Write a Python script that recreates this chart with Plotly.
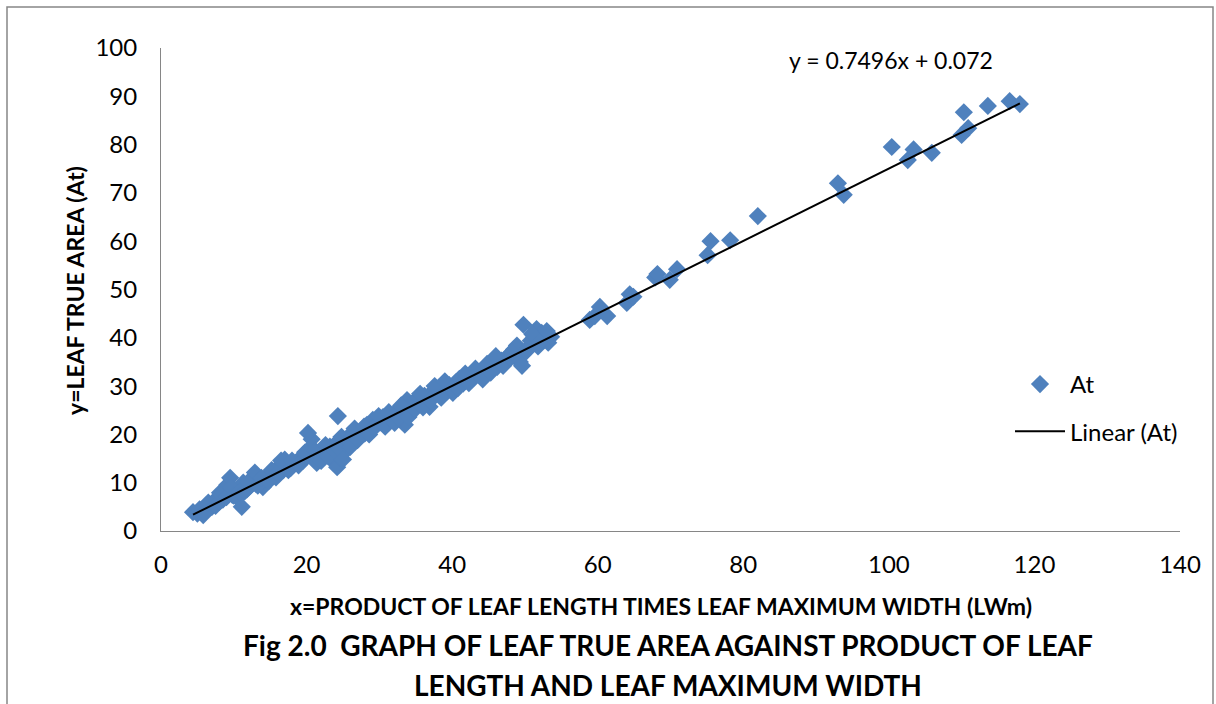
import plotly.graph_objects as go

# ---- data ----
lwm = [4.4, 5.0, 5.8, 6.2, 6.7, 7.0, 7.3, 7.8, 8.1, 8.5, 8.8, 9.1, 9.5, 9.3, 9.8, 10.2, 10.5, 11.1, 11.3, 11.8,
       12.3, 12.6, 13.0, 13.5, 14.0, 14.3, 14.6, 15.0, 15.5, 15.8, 16.3, 16.8, 17.0, 17.3, 17.8, 18.2, 18.6, 19.1,
       19.5, 20.0, 20.5, 20.7, 21.0, 21.4, 21.8, 22.3, 22.8, 23.2, 23.6, 24.0, 24.2, 24.2, 24.3, 24.6, 24.8, 25.2,
       25.5, 25.9, 26.3, 26.8, 27.3, 27.6, 28.0, 28.3, 28.8, 29.1, 29.5, 30.1, 30.5, 31.0, 31.5, 31.9, 32.4, 32.8,
       33.3, 33.5, 33.8, 34.2, 34.6, 35.0, 35.4, 35.8, 36.2, 36.6, 36.9, 37.4, 37.8, 38.3, 38.7, 39.2, 39.6, 40.1,
       40.5, 41.0, 41.5, 42.0, 42.5, 43.0, 43.5, 44.0, 44.5, 45.0, 45.6, 46.2, 46.8, 47.5, 48.5, 48.9, 49.3, 49.6,
       49.8, 50.5, 50.8, 51.2, 51.6, 51.8, 52.3, 52.7, 53.2, 53.6,
       5.3, 6.0, 6.5, 7.5, 8.0, 8.3, 9.0, 9.6, 10.0, 10.8, 11.5, 12.0, 12.9, 13.3, 13.8, 14.8, 15.2, 16.0, 16.5,
       17.5, 18.0, 18.9, 19.8, 20.2, 21.2, 22.0, 22.6, 23.0, 23.9, 24.5, 25.0, 25.7, 26.0, 26.6, 27.0, 27.9, 28.6,
       29.3, 29.9, 30.8, 31.3, 32.1, 32.6, 33.0, 34.0, 34.9, 35.6, 36.0, 37.0, 37.6, 38.5, 39.0, 39.9, 40.8, 41.8,
       42.3, 43.2, 44.2, 44.8, 45.3, 46.0, 47.0, 48.0, 48.2, 50.2, 51.0, 52.0, 53.0,
       58.9, 59.6, 60.3, 61.3, 64.0, 64.4, 64.9, 67.9, 68.2, 69.9, 70.9, 75.1, 75.5, 78.2, 82.0, 93.0, 93.8,
       100.4, 102.6, 103.4, 105.9, 110.0, 110.9, 110.3, 113.6, 116.6, 118.0]
at = [3.9, 3.6, 3.3, 4.8, 5.4, 5.0, 6.2, 6.8, 7.9, 6.5, 7.2, 9.5, 11.0, 8.0, 7.5, 8.4, 6.9, 5.0, 10.0, 8.6,
      9.4, 10.6, 9.8, 10.2, 9.1, 10.8, 11.2, 11.5, 12.0, 11.1, 13.5, 12.6, 14.8, 14.1, 13.0, 13.8, 14.2, 15.0,
      14.5, 15.6, 17.2, 19.0, 15.2, 14.1, 16.3, 15.8, 16.1, 17.5, 15.0, 14.0, 13.2, 18.4, 23.8, 15.2, 19.5, 17.8,
      16.8, 19.8, 18.6, 20.5, 19.5, 21.0, 20.2, 22.0, 21.3, 23.0, 22.0, 22.5, 23.6, 22.8, 24.0, 23.2, 24.6, 25.5,
      24.3, 22.0, 27.1, 25.4, 26.5, 27.0, 27.8, 26.6, 28.0, 27.2, 25.7, 29.0, 28.4, 29.6, 28.8, 29.8, 30.2, 28.6,
      30.8, 31.5, 30.5, 31.6, 32.4, 31.8, 33.0, 32.2, 33.5, 33.6, 35.2, 34.0, 35.3, 36.0, 37.6, 38.4, 35.0, 34.2,
      42.7, 38.0, 39.4, 40.5, 41.8, 38.2, 41.0, 39.6, 39.0, 40.2,
      4.5, 3.9, 5.9, 5.2, 6.0, 7.5, 7.0, 9.0, 7.3, 8.0, 8.2, 10.2, 12.1, 9.4, 11.0, 10.3, 12.6, 12.0, 14.6,
      12.6, 14.6, 13.6, 16.3, 20.3, 16.6, 14.5, 17.8, 15.4, 16.6, 17.0, 14.8, 18.8, 17.4, 21.2, 18.8, 21.6, 20.0,
      21.4, 23.8, 21.6, 24.6, 22.4, 23.4, 26.0, 23.6, 25.2, 28.4, 25.6, 27.0, 30.0, 27.6, 31.0, 29.4, 29.6, 32.6,
      30.6, 33.6, 31.4, 34.6, 32.8, 36.2, 34.2, 35.8, 37.0, 37.2, 40.8, 39.0, 41.4,
      43.7, 44.5, 46.4, 44.5, 47.2, 49.0, 48.5, 52.5, 53.2, 52.0, 54.2, 57.1, 60.0, 60.2, 65.2, 72.0, 69.6,
      79.5, 76.8, 79.0, 78.3, 82.0, 83.4, 86.7, 88.0, 89.0, 88.4]

slope = 0.7496
intercept = 0.072
x_ticks = [0, 20, 40, 60, 80, 100, 120, 140]
y_ticks = [0, 10, 20, 30, 40, 50, 60, 70, 80, 90, 100]

FONT = "Lato"
BLUE = "#4F81BD"

fig = go.Figure()
fig.add_trace(go.Scatter(
    x=lwm, y=at, mode="markers", name="At",
    marker=dict(symbol="diamond", size=14, color=BLUE, line=dict(width=0)),
    legendgroup="a",
))
x_line = [min(lwm), max(lwm)]
fig.add_trace(go.Scatter(
    x=x_line, y=[slope * v + intercept for v in x_line], mode="lines",
    name="Linear (At)", line=dict(color="black", width=2), legendgroup="b",
))

W, H = 1216, 704
L, R, T, B = 161, 36, 48, 173
pw, ph = W - L - R, H - T - B

def px_x(p):
    return (p - L) / pw

def px_y(p):
    return (H - B - p) / ph

def ann(text, xp, yp, size, angle=0):
    return dict(text=text, x=px_x(xp), y=px_y(yp), xref="paper", yref="paper", showarrow=False,
                xanchor="center", yanchor="middle", textangle=angle, font=dict(size=size, color="black"))

axis_common = dict(showgrid=False, zeroline=False, showline=True, linecolor="#868686", linewidth=1,
                   ticks="", tickfont=dict(family=FONT, size=24, color="black"))
fig.update_xaxes(range=[0, 140], tickvals=x_ticks, ticklabelstandoff=12, **axis_common)
fig.update_yaxes(range=[0, 100], tickvals=y_ticks, ticklabelstandoff=18, **axis_common)

fig.update_layout(
    width=W, height=H, margin=dict(l=L, r=R, t=T, b=B, autoexpand=False),
    plot_bgcolor="white", paper_bgcolor="white",
    font=dict(family=FONT, color="black"),
    showlegend=True,
    legend=dict(x=px_x(1010), y=px_y(362), xanchor="left", yanchor="top",
                font=dict(family=FONT, size=24), itemwidth=50, tracegroupgap=13,
                traceorder="grouped", bgcolor="rgba(0,0,0,0)"),
    annotations=[
        ann("y = 0.7496x + 0.072", 891, 60, 23),
        ann("<b>x=PRODUCT OF LEAF LENGTH TIMES LEAF MAXIMUM WIDTH (LWm)</b>", 661, 606, 23),
        ann("<b>y=LEAF TRUE AREA (At)</b>", 75, 291, 23, -90),
        ann("<b>Fig 2.0  GRAPH OF LEAF TRUE AREA AGAINST PRODUCT OF LEAF</b>", 668, 645, 28),
        ann("<b>LENGTH AND LEAF MAXIMUM WIDTH</b>", 668, 685, 28),
    ],
    shapes=[dict(type="rect", xref="paper", yref="paper", x0=px_x(7), x1=px_x(1213), y0=px_y(712), y1=px_y(7),
                 line=dict(color="#868686", width=1.5), fillcolor="rgba(0,0,0,0)", layer="below")],
)

fig.write_html("out.html")
